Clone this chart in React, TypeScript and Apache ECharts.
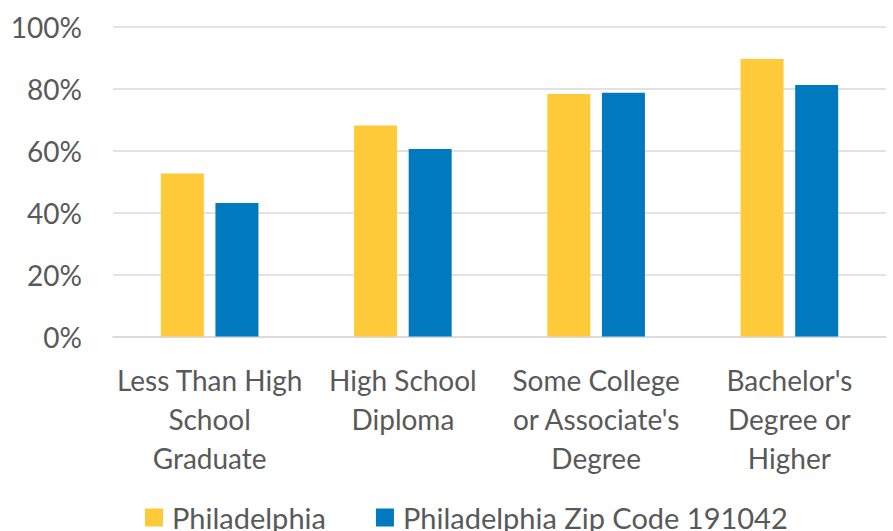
import React, { useEffect, useRef } from "react";
import * as echarts from "echarts";

const categories = [
  "Less Than High\nSchool\nGraduate",
  "High School\nDiploma",
  "Some College\nor Associate's\nDegree",
  "Bachelor's\nDegree or\nHigher",
];
const philadelphia = [52.6, 68.1, 78.2, 89.5];
const zip191042 = [43.1, 60.5, 78.6, 81.1];
const seriesNames = ["Philadelphia", "Philadelphia Zip Code 191042"];

const FONT = "Lato, 'Open Sans', sans-serif";
const TEXT = "#595959";

export default function App() {
  const ref = useRef<HTMLDivElement>(null);
  useEffect(() => {
    document.body.style.margin = "0";
    if (!ref.current) return;
    const chart = echarts.init(ref.current, undefined, { renderer: "svg" });
    chart.setOption({
      animation: false,
      textStyle: { fontFamily: FONT },
      grid: { left: 113, right: 7, top: 26.5, bottom: 194.5, containLabel: false },
      legend: {
        top: 498,
        left: 140,
        itemWidth: 18,
        itemHeight: 18,
        itemGap: 50,
        icon: "rect",
        textStyle: { fontSize: 29, color: TEXT, fontFamily: FONT, padding: [0, 0, 0, 4] },
        data: seriesNames,
      },
      xAxis: {
        type: "category",
        data: categories,
        axisLine: { lineStyle: { color: "#d9d9d9", width: 1.5 } },
        axisTick: { show: false },
        axisLabel: {
          fontSize: 28,
          color: TEXT,
          lineHeight: 39,
          margin: 24,
          interval: 0,
          fontFamily: FONT,
        },
      },
      yAxis: {
        type: "value",
        min: 0,
        max: 100,
        interval: 20,
        axisLine: { show: false },
        axisTick: { show: false },
        splitLine: { lineStyle: { color: "#d9d9d9", width: 1.5 } },
        axisLabel: {
          formatter: "{value}%",
          fontSize: 28,
          color: TEXT,
          margin: 31,
          fontFamily: FONT,
        },
      },
      series: [
        {
          name: seriesNames[0],
          type: "bar",
          data: philadelphia,
          barWidth: 43,
          barGap: "27%",
          itemStyle: { color: "#FFCA3A" },
        },
        {
          name: seriesNames[1],
          type: "bar",
          data: zip191042,
          barWidth: 43,
          itemStyle: { color: "#0079BE" },
        },
      ],
    });
    return () => chart.dispose();
  }, []);
  return <div ref={ref} style={{ width: 893, height: 531 }} />;
}
